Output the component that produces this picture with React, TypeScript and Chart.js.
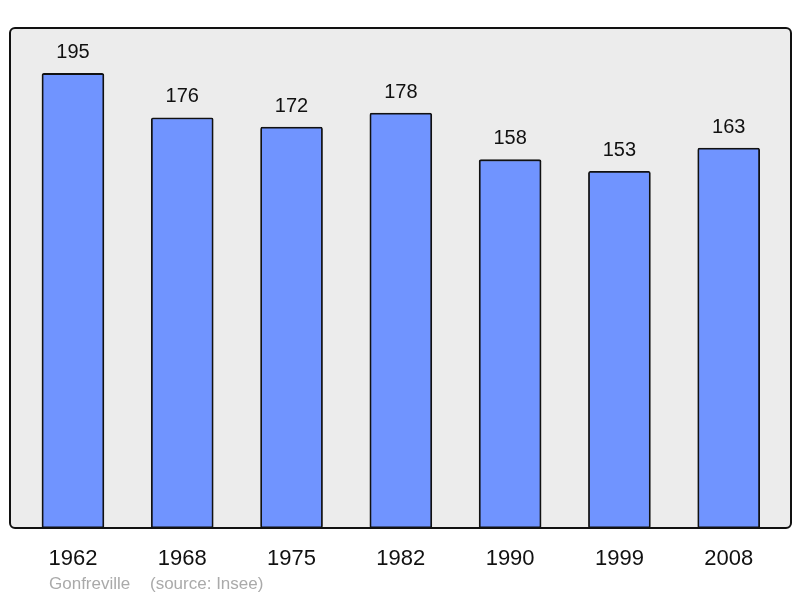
import React, { useEffect, useRef } from "react";
import { Chart, registerables } from "chart.js";

Chart.register(...registerables);

const years = ["1962", "1968", "1975", "1982", "1990", "1999", "2008"];
const population = [195, 176, 172, 178, 158, 153, 163];
const footerName = "Gonfreville";
const footerSource = "(source: Insee)";

const FONT = "'Liberation Sans', Arial, sans-serif";

const framePlugin = {
  id: "frame",
  beforeDatasetsDraw(chart: any) {
    const { ctx, chartArea: a } = chart;
    ctx.save();
    ctx.beginPath();
    (ctx as any).roundRect(a.left, a.top, a.right - a.left, a.bottom - a.top, 5);
    ctx.fillStyle = "#ececec";
    ctx.fill();
    ctx.restore();
  },
  afterDatasetsDraw(chart: any) {
    const { ctx, chartArea: a } = chart;
    ctx.save();
    ctx.beginPath();
    (ctx as any).roundRect(a.left, a.top, a.right - a.left, a.bottom - a.top, 5);
    ctx.lineWidth = 2;
    ctx.strokeStyle = "#111";
    ctx.stroke();
    const meta = chart.getDatasetMeta(0);
    ctx.fillStyle = "#111";
    ctx.font = "20px " + FONT;
    ctx.textAlign = "center";
    ctx.textBaseline = "middle";
    meta.data.forEach((el: any, i: number) => {
      ctx.fillText(String(population[i]), el.x, el.y - 21);
    });
    ctx.fillStyle = "#aaaaaa";
    ctx.font = "17px " + FONT;
    ctx.textAlign = "left";
    ctx.fillText(footerName, 49, 584);
    ctx.fillText(footerSource, 150, 584);
    ctx.restore();
  },
};

export default function App() {
  const ref = useRef<HTMLCanvasElement>(null);
  useEffect(() => {
    const chart = new Chart(ref.current!, {
      type: "bar",
      data: {
        datasets: [
          {
            data: population.map((v, i) => ({ x: i, y: v })),
            backgroundColor: "#7094ff",
            borderColor: "#111",
            borderWidth: 1.8,
            borderRadius: 2,
            borderSkipped: false,
            barThickness: 62,
          },
        ],
      },
      options: {
        animation: false,
        responsive: false,
        maintainAspectRatio: false,
        layout: { padding: { top: 28, left: 10, right: 9, bottom: 7.6 } },
        plugins: { legend: { display: false }, tooltip: { enabled: false } },
        scales: {
          x: {
            type: "linear",
            offset: false,
            min: -0.576,
            max: 6.57,
            grid: { display: false, drawTicks: false, offset: false },
            border: { display: false },
            afterBuildTicks: (scale: any) => {
              scale.ticks = years.map((_, i) => ({ value: i }));
            },
            ticks: {
              autoSkip: false,
              maxRotation: 0,
              padding: 18,
              color: "#111",
              font: { family: FONT, size: 22 },
              callback: (v: any) => years[v] ?? "",
            },
          },
          y: { display: false, min: 0, max: 214.5 },
        },
      },
      plugins: [framePlugin],
    });
    return () => chart.destroy();
  }, []);
  return (
    <div style={{ position: "fixed", left: 0, top: 0, width: 800, height: 598, background: "#fff" }}>
      <canvas ref={ref} width={800} height={598} style={{ width: 800, height: 598 }} />
    </div>
  );
}
